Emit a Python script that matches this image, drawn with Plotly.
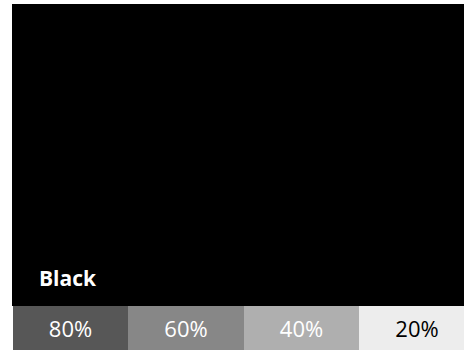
import plotly.graph_objects as go

# Data
base_label = "Black"
base_color = "#000000"
tint_labels = ["80%", "60%", "40%", "20%"]
tint_colors = ["#575757", "#878787", "#afafaf", "#ededed"]
tint_text_colors = ["#ffffff", "#ffffff", "#ffffff", "#000000"]

FONT = "Open Sans"
n = len(tint_labels)
xpos = list(range(n))
unit = 115.5

fig = go.Figure()

# Big base swatch
base_left = -0.5 - 1 / unit
base_width = n + 0.5
fig.add_trace(go.Bar(
    x=[base_left + base_width / 2], y=[6.86], base=[1], width=[base_width],
    marker=dict(color=base_color, line=dict(width=0)),
    hoverinfo="skip", showlegend=False,
))

# Tint swatches
fig.add_trace(go.Bar(
    x=xpos, y=[1] * n, base=[0] * n, width=[1] * n,
    marker=dict(color=tint_colors, line=dict(width=0)),
    text=tint_labels, textposition="inside", insidetextanchor="middle",
    textangle=0, constraintext="none",
    textfont=dict(family=FONT, size=22, color=tint_text_colors),
    hoverinfo="skip", showlegend=False,
))

fig.add_annotation(
    x=37 / 464, y=(350 - 287) / 350, xref="paper", yref="paper",
    xanchor="left", yanchor="bottom", yshift=-7,
    text="<b>" + base_label + "</b>", showarrow=False,
    font=dict(family=FONT, size=21, color="#ffffff"),
)

fig.update_layout(
    width=464, height=350,
    margin=dict(l=0, r=0, t=0, b=0),
    paper_bgcolor="#ffffff", plot_bgcolor="#ffffff",
    barmode="overlay", bargap=0,
    xaxis=dict(range=[-0.5 - 12.5 / unit, -0.5 + (464 - 12.5) / unit],
               visible=False, fixedrange=True),
    yaxis=dict(range=[0, 350 / 44], visible=False, fixedrange=True),
    uniformtext=dict(minsize=22, mode="show"),
)

fig.write_html(
    "out.html",
    config=dict(displayModeBar=False),
    post_script="document.body.style.margin='0';document.body.style.overflow='hidden';",
)
